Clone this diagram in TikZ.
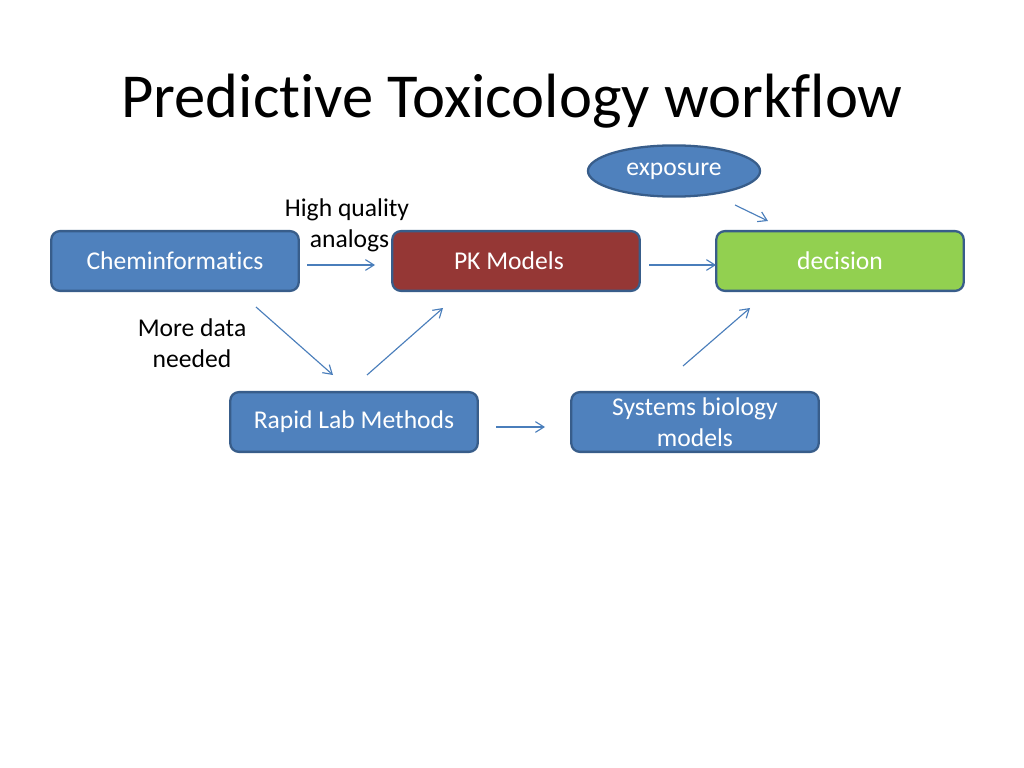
\documentclass[tikz,border=0pt]{standalone}
\usepackage{fontspec}
\setmainfont{Carlito}[Ligatures={NoCommon}]
\usetikzlibrary{arrows.meta,shapes.geometric}
\definecolor{boxblue}{HTML}{4F81BD}
\definecolor{boxedge}{HTML}{385D8A}
\definecolor{pkred}{HTML}{953735}
\definecolor{decgreen}{HTML}{92D050}
\definecolor{arrowblue}{HTML}{4A7EBB}
\tikzset{
  box/.style={draw=boxedge, line width=1.6pt, rounded corners=6pt, fill=boxblue,
    minimum width=174pt, minimum height=42pt, text=white, align=center,
    font=\fontsize{18}{21.6}\selectfont, inner sep=0pt},
  lbl/.style={align=center, font=\fontsize{18}{21.6}\selectfont, text=black, inner sep=0pt},
  conn/.style={draw=arrowblue, line width=0.8pt, -{Straight Barb[length=6pt,width=7.5pt]}}
}
\begin{document}
\begin{tikzpicture}[x=0.703125pt,y=-0.703125pt]
\useasboundingbox (0,0) rectangle (1024,768);
\node[anchor=base, inner sep=0pt, font=\fontsize{44}{52}\selectfont] (title) at (512,118) {Predictive Toxicology workflow};

\node[box] (chem) at (175,261) {Cheminformatics};
\node[box, fill=pkred] (pk) at (516,261) {PK Models\hspace*{10pt}};
\node[box, fill=decgreen] (dec) at (840,261) {decision};
\node[box, ellipse, minimum width=121pt, minimum height=36pt, rounded corners=0pt] (exp) at (674,171) {exposure};
\node[box] (rapid) at (354,422) {\raisebox{-1.5pt}{Rapid Lab Methods}};
\node[box] (sys) at (695,422) {Systems biology\\models};

\node[lbl] (hq) at (347,225) {High quality\\\hspace*{0.2em}analogs};
\node[lbl] (more) at (192,343) {More data\\needed};

\coordinate (a1s) at (307,265); \coordinate (a1e) at (375,265);
\coordinate (a2s) at (649,265); \coordinate (a2e) at (716,265);
\coordinate (a3s) at (735,205); \coordinate (a3e) at (768,221);
\coordinate (a4s) at (256,307); \coordinate (a4e) at (333,375);
\coordinate (a5s) at (367,375); \coordinate (a5e) at (443,308);
\coordinate (a6s) at (496,427); \coordinate (a6e) at (545,427);
\coordinate (a7s) at (683,366); \coordinate (a7e) at (750,308);

\draw[conn] (a1s) -- (a1e);
\draw[conn] (a2s) -- (a2e);
\draw[conn] (a3s) -- (a3e);
\draw[conn] (a4s) -- (a4e);
\draw[conn] (a5s) -- (a5e);
\draw[conn] (a6s) -- (a6e);
\draw[conn] (a7s) -- (a7e);
\end{tikzpicture}
\end{document}
